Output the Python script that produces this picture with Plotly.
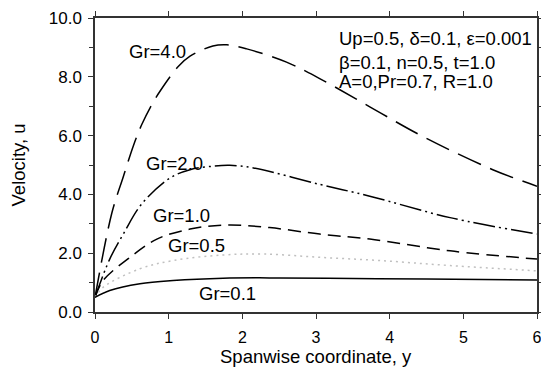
import plotly.graph_objects as go

# Data
y_gr40 = [0, 0.227, 0.384, 0.52, 0.63, 0.77, 0.88, 1.13, 1.29, 1.6, 1.79, 2.06, 2.6, 3.05, 3.73, 4.45, 5.4, 6]
u_gr40 = [0.5, 3.35, 4.6, 5.65, 6.35, 7.05, 7.5, 8.35, 8.7, 9.05, 9.09, 8.95, 8.5, 7.94, 6.98, 5.97, 4.84, 4.28]

y_gr20 = [0, 0.2, 0.384, 0.63, 1.02, 1.29, 1.6, 1.83, 2.15, 3.05, 3.73, 4.82, 6]
u_gr20 = [0.5, 1.8, 2.65, 3.66, 4.56, 4.84, 4.96, 4.99, 4.9, 4.34, 3.94, 3.21, 2.65]

y_gr10 = [0, 0.11, 0.475, 0.84, 1.29, 1.79, 2.37, 3.05, 3.73, 4.82, 6]
u_gr10 = [0.5, 1.07, 1.86, 2.48, 2.82, 2.96, 2.87, 2.65, 2.48, 2.08, 1.80]

y_gr05 = [0, 0.11, 0.61, 1.06, 1.74, 2.3, 3.05, 3.87, 4.82, 6]
u_gr05 = [0.5, 0.84, 1.47, 1.75, 1.94, 1.97, 1.86, 1.75, 1.58, 1.40]

y_gr01 = [0, 0.2, 0.61, 1.06, 1.74, 2.5, 3.5, 4.5, 6]
u_gr01 = [0.5, 0.73, 0.96, 1.07, 1.15, 1.16, 1.14, 1.12, 1.09]

curve_labels = ["Gr=4.0", "Gr=2.0", "Gr=1.0", "Gr=0.5", "Gr=0.1"]
label_x = [0.855, 1.085, 1.17, 1.38, 1.80]
label_u = [8.86, 5.05, 3.27, 2.25, 0.63]

param_lines = ["Up=0.5, δ=0.1, ε=0.001", "β=0.1, n=0.5, t=1.0", "A=0,Pr=0.7, R=1.0"]
param_u = [9.29, 8.50, 7.83]

x_title = "Spanwise coordinate, y"
y_title = "Velocity, u"

FONT = "Arial, Liberation Sans, sans-serif"
FS = 18.5

fig = go.Figure()
styles = [
    (y_gr40, u_gr40, "black", "25px,10px", 1.5),
    (y_gr20, u_gr20, "black", "22px,4px,2px,4px,2px,4px", 1.5),
    (y_gr10, u_gr10, "black", "13px,7px", 1.5),
    (y_gr05, u_gr05, "#c0c0c0", "2px,4px", 1.5),
    (y_gr01, u_gr01, "black", "solid", 1.5),
]
for xs, us, col, dash, w in styles:
    fig.add_trace(go.Scatter(x=xs, y=us, mode="lines", line_shape="spline",
                             line=dict(color=col, dash=dash, width=w),
                             showlegend=False, hoverinfo="skip"))

for t, xx, uu in zip(curve_labels, label_x, label_u):
    fig.add_annotation(x=xx, y=uu, text=t, showarrow=False, xanchor="center", yanchor="middle",
                       font=dict(family=FONT, size=FS, color="black"))

for t, uu in zip(param_lines, param_u):
    fig.add_annotation(x=3.28, y=uu, text=t, showarrow=False, xanchor="left", yanchor="middle",
                       font=dict(family=FONT, size=FS, color="black"))

# x-axis title placed just below the tick labels
fig.add_annotation(x=0.5, y=-0.153, xref="paper", yref="paper", text=x_title, showarrow=False,
                   xanchor="center", yanchor="middle", font=dict(family=FONT, size=FS, color="black"))

axis_common = dict(showline=True, linecolor="#333333", linewidth=1.5, mirror="ticks",
                   ticks="outside", ticklen=5, tickwidth=1, tickcolor="#333333",
                   showgrid=False, zeroline=False, automargin=False,
                   ticklabeloverflow="allow")

fig.update_xaxes(range=[0, 6], tickvals=[0, 1, 2, 3, 4, 5, 6], ticklabelstandoff=5,
                 tickfont=dict(family=FONT, size=16, color="black"),
                 **axis_common)
fig.update_yaxes(range=[0, 10], tickvals=[0, 2, 4, 6, 8, 10], ticktext=["0.0", "2.0", "4.0", "6.0", "8.0", "10.0"],
                 ticklabelstandoff=3, tickfont=dict(family=FONT, size=17, color="black"),
                 minor=dict(tickvals=[1, 3, 5, 7, 9], ticks="outside", ticklen=4, tickcolor="#333333", showgrid=False),
                 title=dict(text=y_title, font=dict(family=FONT, size=FS, color="black"), standoff=21),
                 **axis_common)

fig.update_layout(width=549, height=368, margin=dict(l=87, r=20, t=10, b=64),
                  plot_bgcolor="white", paper_bgcolor="white")

fig.write_html("out.html")
